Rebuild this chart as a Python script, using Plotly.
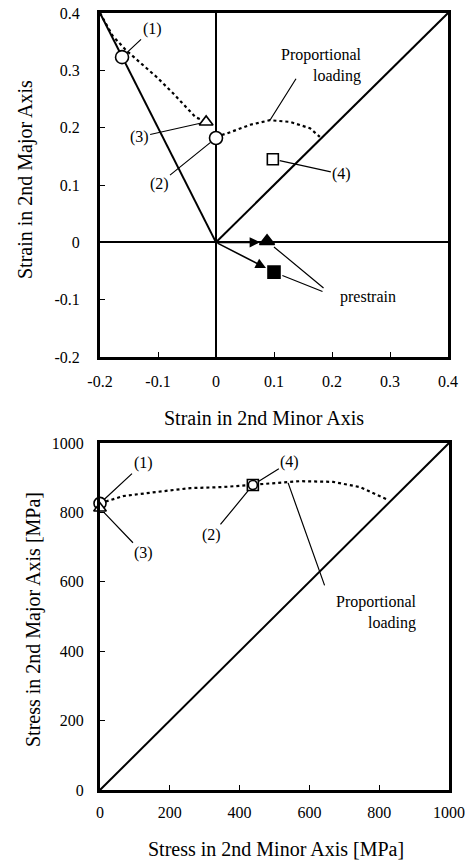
import plotly.graph_objects as go

FONT = "Liberation Serif"

# ---------------- top chart data (strain) ----------------
top_x_ticks = [-0.2, -0.1, 0, 0.1, 0.2, 0.3, 0.4]
top_x_ticktext = ["-0.2", "-0.1", "0", "0.1", "0.2", "0.3", "0.4"]
top_y_ticks = [-0.2, -0.1, 0, 0.1, 0.2, 0.3, 0.4]
top_y_ticktext = ["-0.2", "-0.1", "0", "0.1", "0.2", "0.3", "0.4"]

top_limit_a_x = [-0.2, 0.0]          # line toward upper-left corner
top_limit_a_y = [0.4, 0.0]
top_prop_x = [0.0, 0.4]              # proportional loading line
top_prop_y = [0.0, 0.4]

top_path1_x = [-0.2, -0.178, -0.155, -0.131, -0.102, -0.074, -0.05, -0.035, -0.02]
top_path1_y = [0.4, 0.36, 0.335, 0.314, 0.288, 0.26, 0.234, 0.218, 0.212]
top_path2_x = [0.0, 0.019, 0.059, 0.093, 0.128, 0.162, 0.179]
top_path2_y = [0.184, 0.19, 0.205, 0.213, 0.21, 0.199, 0.184]

top_pt1 = (-0.162, 0.323)   # (1) open circle
top_pt2 = (0.0, 0.182)      # (2) open circle
top_pt3 = (-0.017, 0.21)    # (3) open triangle
top_pt4 = (0.098, 0.145)    # (4) open square
pre_tri = (0.088, 0.002)    # prestrain filled triangle
pre_sq = (0.1, -0.052)      # prestrain filled square
origin = (0.0, 0.0)

# ---------------- bottom chart data (stress) ----------------
bot_ticks = [0, 200, 400, 600, 800, 1000]
bot_ticktext = ["0", "200", "400", "600", "800", "1000"]
bot_prop_x = [0, 1000]
bot_prop_y = [0, 1000]
bot_path_x = [0, 66, 163, 258, 352, 438, 487, 573, 668, 745, 825]
bot_path_y = [826, 847, 859, 870, 873, 879, 882, 890, 888, 873, 836]
bot_pt1 = (0, 826)     # (1) circle
bot_pt3 = (0, 812)     # (3) triangle
bot_pt2 = (438, 879)   # (2) circle
bot_pt4 = (438, 879)   # (4) square

fig = go.Figure()

line_k = dict(color="black", width=2)
dot_k = dict(color="black", width=2.2, dash="3px,3px")

def marker_trace(pt, symbol, size, xa, ya, filled=False):
    return go.Scatter(
        x=[pt[0]], y=[pt[1]], mode="markers", xaxis=xa, yaxis=ya,
        marker=dict(symbol=symbol, size=size,
                    color="black" if filled else "white",
                    line=dict(color="black", width=1.6)),
        cliponaxis=False, showlegend=False, hoverinfo="skip")

# top traces
fig.add_trace(go.Scatter(x=top_limit_a_x, y=top_limit_a_y, mode="lines", line=line_k,
                         xaxis="x", yaxis="y", showlegend=False))
fig.add_trace(go.Scatter(x=top_prop_x, y=top_prop_y, mode="lines", line=line_k,
                         xaxis="x", yaxis="y", showlegend=False))
fig.add_trace(go.Scatter(x=top_path1_x, y=top_path1_y, mode="lines", line=dot_k,
                         xaxis="x", yaxis="y", showlegend=False, cliponaxis=False))
fig.add_trace(go.Scatter(x=top_path2_x, y=top_path2_y, mode="lines", line=dot_k,
                         xaxis="x", yaxis="y", showlegend=False))
fig.add_trace(marker_trace(top_pt1, "circle", 13, "x", "y"))
fig.add_trace(marker_trace(top_pt2, "circle", 13, "x", "y"))
fig.add_trace(marker_trace(top_pt3, "triangle-up", 12, "x", "y"))
fig.add_trace(marker_trace(top_pt4, "square", 11, "x", "y"))
fig.add_trace(marker_trace(pre_tri, "triangle-up", 13, "x", "y", filled=True))
fig.add_trace(marker_trace(pre_sq, "square", 12, "x", "y", filled=True))

# bottom traces
fig.add_trace(go.Scatter(x=bot_prop_x, y=bot_prop_y, mode="lines", line=line_k,
                         xaxis="x2", yaxis="y2", showlegend=False))
fig.add_trace(go.Scatter(x=bot_path_x, y=bot_path_y, mode="lines", line=dot_k,
                         xaxis="x2", yaxis="y2", showlegend=False))
fig.add_trace(marker_trace(bot_pt1, "circle", 12, "x2", "y2"))
fig.add_trace(marker_trace(bot_pt3, "triangle-up", 11, "x2", "y2"))
fig.add_trace(marker_trace(bot_pt4, "square", 11, "x2", "y2"))
fig.add_trace(marker_trace(bot_pt2, "circle", 9, "x2", "y2"))

ann = []

def label(pt, text, ax, ay, xr="x", yr="y", standoff=7):
    ann.append(dict(x=pt[0], y=pt[1], xref=xr, yref=yr, text=text, showarrow=True,
                    ax=ax, ay=ay, arrowhead=0, arrowwidth=1.2, arrowcolor="black",
                    standoff=standoff, font=dict(family=FONT, size=16, color="black")))

def leader(pt, ax, ay, xr="x", yr="y", standoff=0):
    ann.append(dict(x=pt[0], y=pt[1], xref=xr, yref=yr, text="", showarrow=True,
                    ax=ax, ay=ay, arrowhead=0, arrowwidth=1.2, arrowcolor="black",
                    standoff=standoff))

def text_at(pt, text, xs, ys, xr="x", yr="y", align="center"):
    ann.append(dict(x=pt[0], y=pt[1], xref=xr, yref=yr, text=text, showarrow=False,
                    xshift=xs, yshift=ys, align=align, xanchor="center", yanchor="middle",
                    font=dict(family=FONT, size=16, color="black")))

# top labels
label(top_pt1, "(1)", 30, -28)
label(top_pt3, "(3)", -67, 15, standoff=6)
label(top_pt2, "(2)", -57, 46)
label(top_pt4, "(4)", 69, 15, standoff=7)
prop_top = (top_path2_x[3], top_path2_y[3])
leader(prop_top, 27, -43)
text_at(prop_top, "Proportional<br>loading", 52, 55, align="right")
# prestrain arrows from origin
ann.append(dict(x=pre_tri[0], y=0, xref="x", yref="y", ax=origin[0], ay=origin[1],
                axref="x", ayref="y", text="", showarrow=True, arrowhead=2,
                arrowsize=1.3, arrowwidth=1.6, arrowcolor="black", standoff=7))
ann.append(dict(x=pre_sq[0], y=pre_sq[1], xref="x", yref="y", ax=origin[0], ay=origin[1],
                axref="x", ayref="y", text="", showarrow=True, arrowhead=2,
                arrowsize=1.3, arrowwidth=1.6, arrowcolor="black", standoff=9))
leader(pre_tri, 58, 48, standoff=9)
leader(pre_sq, 50, 20, standoff=9)
text_at(pre_sq, "prestrain", 94, -25)

# bottom labels
label(bot_pt1, "(1)", 43, -40, "x2", "y2", standoff=6)
label(bot_pt3, "(3)", 43, 45, "x2", "y2", standoff=6)
label(bot_pt2, "(2)", -41, 50, "x2", "y2", standoff=7)
label(bot_pt4, "(4)", 37, -23, "x2", "y2", standoff=7)
prop_bot = (539, 885)
leader(prop_bot, 37, 104, "x2", "y2")
text_at(prop_bot, "Proportional<br>loading", 88, -130, "x2", "y2", align="right")

# axis titles
tfont = dict(family=FONT, size=20, color="black")
def title_ann(px, py, text, angle=0):
    ann.append(dict(x=px/465, y=1-py/861, xref="paper", yref="paper", text=text,
                    showarrow=False, textangle=angle, xanchor="center", yanchor="middle",
                    font=tfont))

title_ann(25, 180, "Strain in 2nd Major Axis", -90)
title_ann(264, 418, "Strain in 2nd Minor Axis")
title_ann(33, 620, "Stress in 2nd Major Axis [MPa]", -90)
title_ann(276, 849, "Stress in 2nd Minor Axis [MPa]")

tickfont = dict(family=FONT, size=16, color="black")
ax_common = dict(showgrid=False, showline=True, linecolor="black", linewidth=3, mirror=True,
                 ticks="inside", ticklen=5, tickwidth=1.2, tickcolor="black", tickfont=tickfont,
                 automargin=False)

fig.update_layout(
    width=465, height=861, margin=dict(l=0, r=0, t=0, b=0, autoexpand=False),
    paper_bgcolor="white", plot_bgcolor="white", showlegend=False,
    annotations=ann,
    xaxis=dict(domain=[100/465, 448/465], anchor="y", range=[-0.2, 0.4],
               tickvals=top_x_ticks, ticktext=top_x_ticktext,
               zeroline=True, zerolinecolor="black", zerolinewidth=2,
               ticklabelstandoff=8, **ax_common),
    yaxis=dict(domain=[1-357/861, 1-13/861], anchor="x", range=[-0.2, 0.4],
               tickvals=top_y_ticks, ticktext=top_y_ticktext,
               zeroline=True, zerolinecolor="black", zerolinewidth=2,
               ticklabelstandoff=14, **ax_common),
    xaxis2=dict(domain=[100/465, 449/465], anchor="y2", range=[0, 1000],
                tickvals=bot_ticks, ticktext=bot_ticktext, zeroline=False,
                ticklabelstandoff=6, **ax_common),
    yaxis2=dict(domain=[1-790/861, 1-443/861], anchor="x2", range=[0, 1000],
                tickvals=bot_ticks, ticktext=bot_ticktext, zeroline=False,
                ticklabelstandoff=10, **ax_common),
)

fig.write_html("out.html")
